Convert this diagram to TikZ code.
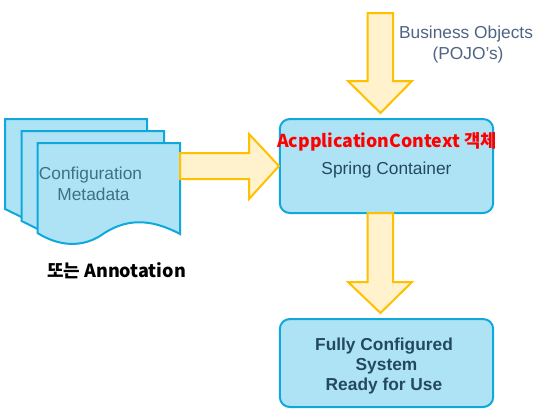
\documentclass[tikz,border=0pt]{standalone}
\usepackage{fontspec}
\setmainfont{Liberation Sans}
\newfontfamily\krfont{Noto Sans CJK KR}
\definecolor{boxfill}{HTML}{AEE3F5}
\definecolor{boxline}{HTML}{10A8DC}
\definecolor{arrowfill}{HTML}{FFF2CC}
\definecolor{arrowline}{HTML}{FFC000}
\definecolor{boxtext}{HTML}{23495F}
\definecolor{paletext}{HTML}{3F6F85}
\definecolor{sidetext}{HTML}{4F6484}
\tikzset{
  pagebox/.style={draw=boxline,fill=boxfill,line width=1.5pt,line join=miter},
  blockarrow/.style={draw=arrowline,fill=arrowfill,line width=1.5pt,line join=miter},
  roundbox/.style={draw=boxline,fill=boxfill,line width=1.5pt,rounded corners=7.5pt,
    minimum width=160pt,align=center,text=boxtext,font=\fontsize{13}{15}\selectfont},
}
\begin{document}
\begin{tikzpicture}[x=0.75pt,y=-0.75pt]
\useasboundingbox (0,0) rectangle (534,412);

%% stacked pages
\draw[pagebox] (5,119) -- (147,119) -- (147,200) -- (40,226) -- (5,209) -- cycle;
\draw[pagebox] (21.5,131) -- (164,131) -- (164,215) -- (56,238) -- (21.5,221) -- cycle;
\draw[pagebox] (37.5,143) -- (180,143) -- (180,234)
  .. controls (150,218) and (125,218) .. (100,236)
  .. controls (82,247) and (60,247) .. (37.5,233) -- cycle;
\node[text=paletext,align=center,font=\fontsize{13}{15.5}\selectfont] (metadata) at (90.5,183.5) {Configuration\\\hspace*{4.5pt}Metadata};
\node[font=\krfont\bfseries\fontsize{13.5}{14}\selectfont] (annotation) at (116.5,271) {또는 Annotation};

%% boxes
\node[roundbox,minimum height=70.5pt] (container) at (386.5,166) {};
\node[roundbox,minimum height=66pt,font=\bfseries\fontsize{13}{15}\selectfont] (system) at (386.5,363) {\rule{0pt}{13.8pt}Fully Configured\hspace*{3.75pt}\\System\hspace*{3.75pt}\\Ready for Use\hspace*{3.75pt}};
\node[text=boxtext,font=\fontsize{13}{15}\selectfont] (spring) at (386.5,170.5) {Spring Container};
\node[text=red,font=\krfont\bfseries\fontsize{13.3}{15}\selectfont] (context) at (387,142) {AcpplicationContext 객체};
\node[text=sidetext,align=center,font=\fontsize{13}{15.5}\selectfont] (objects) at (466,44.5) {Business Objects\\\hspace*{3pt}(POJO's)};

%% arrows
\draw[blockarrow] (180,153) -- (249,153) -- (249,134) -- (279,166) -- (249,199) -- (249,179) -- (180,179) -- cycle;
\draw[blockarrow] (367.5,13) -- (393,13) -- (393,81) -- (412,81) -- (380.5,113) -- (348,81) -- (367.5,81) -- cycle;
\draw[blockarrow] (367.5,213) -- (393,213) -- (393,282) -- (412,282) -- (380.5,313) -- (348,282) -- (367.5,282) -- cycle;

\end{tikzpicture}
\end{document}
